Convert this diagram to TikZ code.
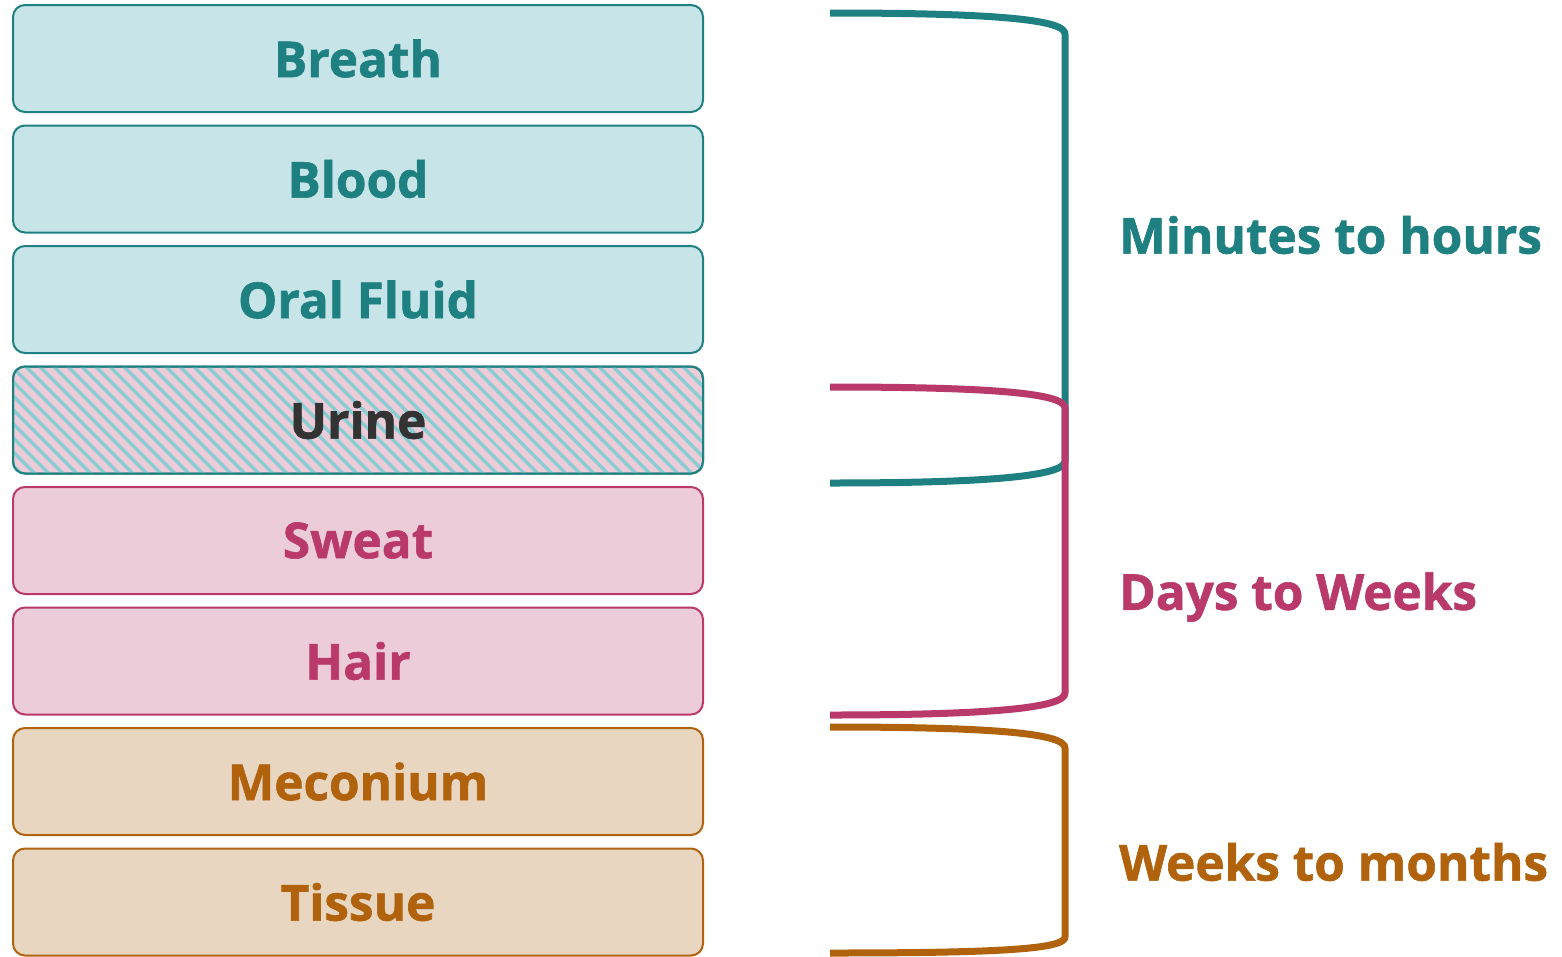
\documentclass[tikz,border=0pt]{standalone}
\usepackage{fontspec}
\setmainfont{Open Sans}[BoldFeatures={FakeBold=1.2}]
\usetikzlibrary{patterns.meta}
\definecolor{tealS}{HTML}{1E8080}
\definecolor{tealF}{HTML}{C7E5E8}
\definecolor{tealH}{HTML}{88CDD0}
\definecolor{pinkS}{HTML}{B8396A}
\definecolor{pinkF}{HTML}{EDCCDA}
\definecolor{brownS}{HTML}{B0620C}
\definecolor{brownF}{HTML}{E8D6C0}
\definecolor{darkT}{HTML}{333333}
\tikzset{
  x=1pt, y=-1pt,
  sbox/.style={draw, line width=2pt, rounded corners=12pt, minimum width=690pt, minimum height=107pt, font=\fontsize{49.5}{54}\selectfont\bfseries, anchor=center, inner sep=0pt},
  tealbox/.style={sbox, draw=tealS, fill=tealF, text=tealS},
  pinkbox/.style={sbox, draw=pinkS, fill=pinkF, text=pinkS},
  brownbox/.style={sbox, draw=brownS, fill=brownF, text=brownS},
  brk/.style={line width=7pt, line join=round},
  lbl/.style={anchor=west, font=\fontsize{49.5}{54}\selectfont\bfseries, inner sep=0pt}
}
\begin{document}
\begin{tikzpicture}
\useasboundingbox (0,0) rectangle (1562,956);
\node[tealbox] (breath) at (358,58.5) {Breath};
\node[tealbox] (blood) at (358,179) {Blood};
\node[tealbox] (oral) at (358,299.5) {Oral Fluid};
\node[sbox, draw=tealS, fill=pinkF, text=darkT] (urine) at (358,420) {};
\fill[pattern={Lines[angle=-45, distance=10.5pt, line width=3.8pt]}, pattern color=tealH, rounded corners=12pt] (urine.south west) rectangle (urine.north east);
\node[sbox, draw=tealS, fill=none, text=darkT] at (358,420) {Urine};
\node[pinkbox] (sweat) at (358,540.5) {Sweat};
\node[pinkbox] (hair) at (358,661) {Hair};
\node[brownbox] (meconium) at (358,781.5) {Meconium};
\node[brownbox] (tissue) at (358,902) {Tissue};
% brackets
\draw[brk, tealS] (830,13) .. controls (1000,13) and (1065,20) .. (1065,34) -- (1065,461) .. controls (1065,475) and (1000,483) .. (830,483);
\draw[brk, pinkS] (830,387) .. controls (1000,387) and (1065,394) .. (1065,408) -- (1065,693) .. controls (1065,707) and (1000,715) .. (830,715);
\draw[brk, brownS] (830,727) .. controls (1000,727) and (1065,734) .. (1065,748) -- (1065,937) .. controls (1065,949) and (1000,953) .. (830,953);
\node[lbl, text=tealS] (l1) at (1119,235) {Minutes to hours};
\node[lbl, text=pinkS] (l2) at (1119,597) {Days to Weeks};
\node[lbl, text=brownS] (l3) at (1119,862) {Weeks to months};
\end{tikzpicture}
\end{document}
